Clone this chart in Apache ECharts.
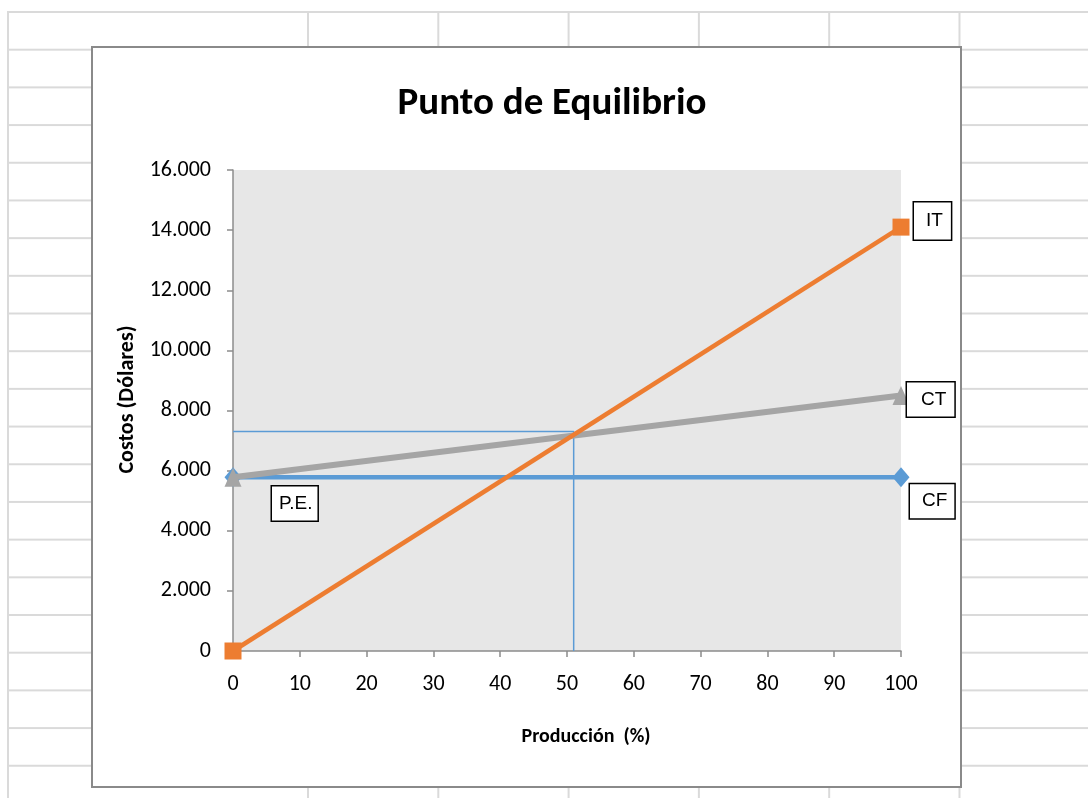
<!DOCTYPE html>
<html>
<head>
<meta charset="utf-8">
<script src="https://cdn.jsdelivr.net/npm/echarts@6/dist/echarts.min.js"></script>
<style>
  html, body { margin: 0; padding: 0; background: #fff; }
  #sheet { position: absolute; left: 7px; top: 11px; width: 1081px; height: 787px;
    border-left: 2px solid #dadada; border-top: 2px solid #dadada; box-sizing: border-box;
    background-image: linear-gradient(to bottom, transparent 35.7px, #dadada 35.7px, #dadada 37.7px);
    background-size: 100% 37.7px; background-position: 0 0; }
  #cols { position: absolute; left: 298px; top: -2px; width: 780px; height: 787px;
    background-image: linear-gradient(to right, #dadada 2px, transparent 2px);
    background-size: 130.3px 100%; }
  #box { position: absolute; left: 91px; top: 46px; width: 871px; height: 742px;
    border: 2px solid #8a8a8a; box-sizing: border-box; background: #fff; }
  #chart { position: absolute; left: 0; top: 0; width: 1088px; height: 798px; }
</style>
</head>
<body>
<div id="sheet"><div id="cols"></div></div>
<div id="box"></div>
<div id="chart"></div>
<script>
; (function () {

    /* ============ datos del punto de equilibrio ============ */
    var produccion = [0, 100];           // eje X (%)
    var ingresoTotal = [0, 14100];       // IT
    var costoTotal = [5780, 8500];       // CT
    var costoFijo = [5780, 5780];        // CF
    var peX = [0, 51, 51];               // lineas guia P.E.
    var peY = [7300, 7300, 0];
    var nombres = ['IT', 'CT', 'CF', 'P.E.'];

    var fuenteExcel = 'Carlito, Lato, sans-serif';
    var fuenteCaja = '"Liberation Sans", Arial, sans-serif';

    function par(xs, ys) {
        return xs.map(function (x, i) { return [x, ys[i]]; });
    }

    function caja(texto, opts) {
        return Object.assign({
            show: true,
            formatter: texto,
            position: 'right',
            color: '#000',
            fontFamily: fuenteCaja,
            fontSize: 19,
            lineHeight: 19,
            backgroundColor: '#fff',
            borderColor: '#000',
            borderWidth: 1.5
        }, opts);
    }

    function conEtiqueta(datos, idx, label) {
        return datos.map(function (d, i) {
            return i === idx ? { value: d, label: label } : { value: d };
        });
    }

    var myChart = echarts.init(document.getElementById('chart'));

    var option = {
        animation: false,
        backgroundColor: 'transparent',
        title: {
            text: 'Punto de Equilibrio',
            left: 547,
            textAlign: 'center',
            top: 80,
            textStyle: {
                fontFamily: fuenteExcel,
                fontSize: 39,
                fontWeight: 'bold',
                color: '#000'
            }
        },
        grid: {
            left: 233,
            top: 170,
            right: 187,
            bottom: 147,
            show: true,
            backgroundColor: '#e7e7e7',
            borderWidth: 0
        },
        xAxis: {
            type: 'value',
            min: 0,
            max: 100,
            interval: 10,
            name: 'Producción  (%)',
            nameLocation: 'middle',
            nameGap: 76,
            nameTextStyle: {
                fontFamily: fuenteExcel,
                fontSize: 20,
                fontWeight: 'bold',
                color: '#000',
                padding: [0, 0, 0, 38]
            },
            axisLine: { show: true, lineStyle: { color: '#8c8c8c', width: 1.5 } },
            axisTick: { show: true, length: 6, lineStyle: { color: '#8c8c8c', width: 1.5 } },
            axisLabel: { margin: 22, fontFamily: fuenteExcel, fontSize: 22, color: '#000' },
            splitLine: { show: false }
        },
        yAxis: {
            type: 'value',
            min: 0,
            max: 16000,
            interval: 2000,
            name: 'Costos (Dólares)',
            nameLocation: 'middle',
            nameGap: 88,
            nameTextStyle: {
                fontFamily: fuenteExcel,
                fontSize: 22,
                fontWeight: 'bold',
                color: '#000',
                padding: [0, 0, 0, 22]
            },
            axisLine: { show: true, lineStyle: { color: '#8c8c8c', width: 1.5 } },
            axisTick: { show: true, length: 6, lineStyle: { color: '#8c8c8c', width: 1.5 } },
            axisLabel: {
                margin: 22,
                fontFamily: fuenteExcel,
                fontSize: 22,
                color: '#000',
                formatter: function (v) {
                    return String(v).replace(/\B(?=(\d{3})+(?!\d))/g, '.');
                }
            },
            splitLine: { show: false }
        },
        series: [
            {
                name: nombres[3],
                type: 'line',
                z: 2,
                symbol: 'circle',
                symbolSize: 0,
                lineStyle: { color: '#5b9bd5', width: 1.5 },
                itemStyle: { color: '#5b9bd5' },
                data: conEtiqueta(par(peX, peY), 0,
                    caja(nombres[3], { distance: 39, offset: [0, 72], padding: [7, 5, 8, 7] }))
            },
            {
                name: nombres[2],
                type: 'line',
                z: 3,
                symbol: 'diamond',
                symbolSize: [17, 20],
                lineStyle: { color: '#5b9bd5', width: 4.5 },
                itemStyle: { color: '#5b9bd5' },
                data: conEtiqueta(par(produccion, costoFijo), 1,
                    caja(nombres[2], { distance: 0.5, offset: [0, 24], padding: [6, 7, 9, 12] }))
            },
            {
                name: nombres[1],
                type: 'line',
                z: 4,
                symbol: 'triangle',
                symbolSize: [17, 19],
                lineStyle: { color: '#a5a5a5', width: 6 },
                itemStyle: { color: '#a5a5a5' },
                data: conEtiqueta(par(produccion, costoTotal), 1,
                    caja(nombres[1], { distance: -2.5, offset: [0, 4], padding: [6, 8, 9, 14] }))
            },
            {
                name: nombres[0],
                type: 'line',
                z: 5,
                symbol: 'rect',
                symbolSize: 17,
                lineStyle: { color: '#ed7d31', width: 4.5 },
                itemStyle: { color: '#ed7d31' },
                data: conEtiqueta(par(produccion, ingresoTotal), 1,
                    caja(nombres[0], { distance: 4.5, offset: [0, -6], padding: [6, 8, 12, 12] }))
            }
        ]
    };

    myChart.setOption(option);
}());
</script>
</body>
</html>
